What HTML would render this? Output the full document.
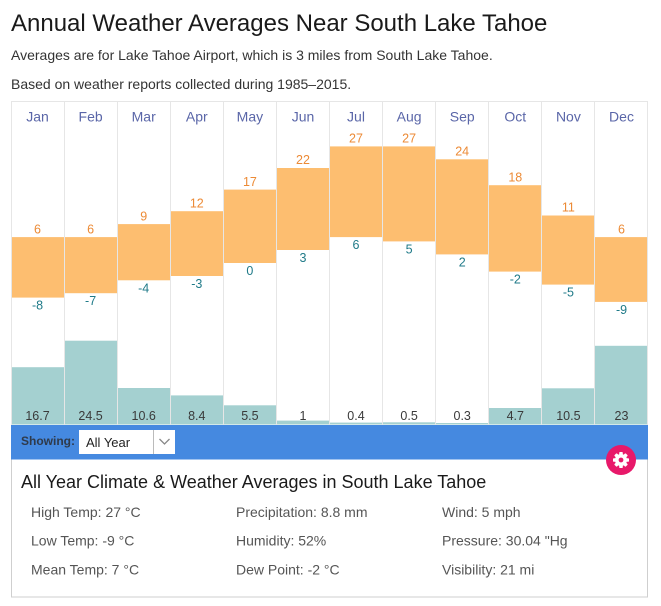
<!DOCTYPE html>
<html><head><meta charset="utf-8">
<style>
html,body{margin:0;padding:0;background:#fff;}
body{width:661px;height:606px;overflow:hidden;font-family:"Liberation Sans",Arial,sans-serif;}
svg{display:block;}
</style></head>
<body>
<svg width="661" height="606" viewBox="0 0 661 606" xmlns="http://www.w3.org/2000/svg" font-family="Liberation Sans, Arial, sans-serif">
<rect width="661" height="606" fill="#fff"/>
<!-- header -->
<text x="11" y="31" font-size="24" fill="#1a1a1a">Annual Weather Averages Near South Lake Tahoe</text>
<text x="11" y="60" font-size="14" fill="#333">Averages are for Lake Tahoe Airport, which is 3 miles from South Lake Tahoe.</text>
<text x="11" y="89" font-size="14" fill="#333">Based on weather reports collected during 1985–2015.</text>

<!-- chart grid -->
<g stroke="#e6e6e6" stroke-width="1">
<line x1="11" y1="101.5" x2="648" y2="101.5"/>
<line x1="11.5" y1="101" x2="11.5" y2="425"/>
<line x1="64.5" y1="101" x2="64.5" y2="425"/>
<line x1="117.5" y1="101" x2="117.5" y2="425"/>
<line x1="170.5" y1="101" x2="170.5" y2="425"/>
<line x1="223.5" y1="101" x2="223.5" y2="425"/>
<line x1="276.5" y1="101" x2="276.5" y2="425"/>
<line x1="329.5" y1="101" x2="329.5" y2="425"/>
<line x1="382.5" y1="101" x2="382.5" y2="425"/>
<line x1="435.5" y1="101" x2="435.5" y2="425"/>
<line x1="488.5" y1="101" x2="488.5" y2="425"/>
<line x1="541.5" y1="101" x2="541.5" y2="425"/>
<line x1="594.5" y1="101" x2="594.5" y2="425"/>
<line x1="647.5" y1="101" x2="647.5" y2="425"/>
</g>

<!-- month labels -->
<g font-size="14" fill="#5a66a8" text-anchor="middle">
<text x="37.5" y="121.5">Jan</text>
<text x="90.6" y="121.5">Feb</text>
<text x="143.7" y="121.5">Mar</text>
<text x="196.8" y="121.5">Apr</text>
<text x="249.9" y="121.5">May</text>
<text x="303" y="121.5">Jun</text>
<text x="356" y="121.5">Jul</text>
<text x="409.1" y="121.5">Aug</text>
<text x="462.2" y="121.5">Sep</text>
<text x="515.3" y="121.5">Oct</text>
<text x="568.4" y="121.5">Nov</text>
<text x="621.5" y="121.5">Dec</text>
</g>

<!-- temperature bars -->
<g fill="#fdbe70">
<rect x="12" y="237.1" width="52" height="60.5"/>
<rect x="65" y="237.1" width="52" height="56.1"/>
<rect x="118" y="224.1" width="52" height="56.2"/>
<rect x="171" y="211.2" width="52" height="64.8"/>
<rect x="224" y="189.6" width="52" height="73.4"/>
<rect x="277" y="168" width="52" height="82"/>
<rect x="330" y="146.4" width="52" height="90.7"/>
<rect x="383" y="146.4" width="52" height="95"/>
<rect x="436" y="159.3" width="52" height="95.1"/>
<rect x="489" y="185.2" width="52" height="86.4"/>
<rect x="542" y="215.5" width="52" height="69.1"/>
<rect x="595" y="237.1" width="52" height="64.8"/>
</g>

<!-- high labels -->
<g font-size="12.5" fill="#ec8a35" text-anchor="middle">
<text x="37.5" y="233.3">6</text>
<text x="90.6" y="233.3">6</text>
<text x="143.7" y="220.3">9</text>
<text x="196.8" y="207.4">12</text>
<text x="249.9" y="185.8">17</text>
<text x="303" y="164.2">22</text>
<text x="356" y="142.6">27</text>
<text x="409.1" y="142.6">27</text>
<text x="462.2" y="155.5">24</text>
<text x="515.3" y="181.4">18</text>
<text x="568.4" y="211.7">11</text>
<text x="621.5" y="233.3">6</text>
</g>

<!-- low labels -->
<g font-size="12.5" fill="#1f7a88" text-anchor="middle">
<text x="37.5" y="309.6">-8</text>
<text x="90.6" y="305.2">-7</text>
<text x="143.7" y="292.3">-4</text>
<text x="196.8" y="288">-3</text>
<text x="249.9" y="275">0</text>
<text x="303" y="262">3</text>
<text x="356" y="249.1">6</text>
<text x="409.1" y="253.4">5</text>
<text x="462.2" y="266.4">2</text>
<text x="515.3" y="283.6">-2</text>
<text x="568.4" y="296.6">-5</text>
<text x="621.5" y="313.9">-9</text>
</g>

<!-- precipitation bars -->
<g fill="#a4d0d0">
<rect x="12" y="367.2" width="52" height="57.3"/>
<rect x="65" y="340.7" width="52" height="83.8"/>
<rect x="118" y="388" width="52" height="36.5"/>
<rect x="171" y="395.4" width="52" height="29.1"/>
<rect x="224" y="405.3" width="52" height="19.2"/>
<rect x="277" y="420.6" width="52" height="3.9"/>
<rect x="330" y="422.6" width="52" height="1.9"/>
<rect x="383" y="422.3" width="52" height="2.2"/>
<rect x="436" y="423" width="52" height="1.5"/>
<rect x="489" y="408" width="52" height="16.5"/>
<rect x="542" y="388.3" width="52" height="36.2"/>
<rect x="595" y="345.8" width="52" height="78.7"/>
</g>
<g font-size="12.5" fill="#3a3a3a" text-anchor="middle">
<text x="37.5" y="420">16.7</text>
<text x="90.6" y="420">24.5</text>
<text x="143.7" y="420">10.6</text>
<text x="196.8" y="420">8.4</text>
<text x="249.9" y="420">5.5</text>
<text x="303" y="420">1</text>
<text x="356" y="420">0.4</text>
<text x="409.1" y="420">0.5</text>
<text x="462.2" y="420">0.3</text>
<text x="515.3" y="420">4.7</text>
<text x="568.4" y="420">10.5</text>
<text x="621.5" y="420">23</text>
</g>

<!-- blue band -->
<rect x="11" y="425" width="637" height="34" fill="#4589e0"/>
<text x="21" y="445" font-size="12" font-weight="bold" fill="#2f3a4a">Showing:</text>
<rect x="79" y="430" width="96" height="24" fill="#fff"/>
<line x1="153.5" y1="430" x2="153.5" y2="454" stroke="#bbb" stroke-width="1"/>
<polyline points="159.5,439 164.5,444 169.5,439" fill="none" stroke="#888" stroke-width="1.3"/>
<text x="86" y="447" font-size="13" fill="#222">All Year</text>

<!-- info panel -->
<rect x="11.5" y="459" width="636" height="138" fill="#fff" stroke="#cfcfcf" stroke-width="1"/>
<rect x="11" y="458" width="637" height="1.5" fill="#4589e0"/>
<text x="21" y="488" font-size="18" fill="#1a1a1a">All Year Climate &amp; Weather Averages in South Lake Tahoe</text>
<g font-size="14" fill="#555">
<text x="31" y="517">High Temp: 27 °C</text>
<text x="31" y="545.5">Low Temp: -9 °C</text>
<text x="31" y="574.5">Mean Temp: 7 °C</text>
<text x="236" y="517">Precipitation: 8.8 mm</text>
<text x="236" y="545.5">Humidity: 52%</text>
<text x="236" y="574.5">Dew Point: -2 °C</text>
<text x="442" y="517">Wind: 5 mph</text>
<text x="442" y="545.5">Pressure: 30.04 "Hg</text>
<text x="442" y="574.5">Visibility: 21 mi</text>
</g>

<!-- gear button -->
<circle cx="621" cy="460" r="15" fill="#e8196a"/>
<g transform="translate(621,460)" fill="#fff">
<rect x="-1.8" y="-8" width="3.6" height="16" rx="0.8"/>
<rect x="-1.8" y="-8" width="3.6" height="16" rx="0.8" transform="rotate(45)"/>
<rect x="-1.8" y="-8" width="3.6" height="16" rx="0.8" transform="rotate(90)"/>
<rect x="-1.8" y="-8" width="3.6" height="16" rx="0.8" transform="rotate(135)"/>
<circle r="6"/>
<circle r="2.4" fill="#e8196a"/>
</g>
</svg>
</body></html>
